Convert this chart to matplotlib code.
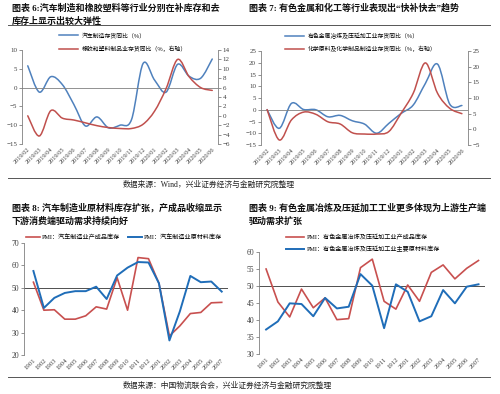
import numpy as np
import matplotlib
matplotlib.use('Agg')
import matplotlib.pyplot as plt
from matplotlib.path import Path
from matplotlib.patches import PathPatch
from matplotlib.lines import Line2D

plt.rcParams['font.family'] = ['Liberation Serif', 'Noto Sans CJK SC']
CJK = ['Noto Sans CJK SC']

# chart 6 / 7 : monthly inventory yoy (2019/02 - 2020/06)
months = ['2019/02', '2019/03', '2019/04', '2019/05', '2019/06', '2019/07', '2019/08',
          '2019/09', '2019/10', '2019/11', '2019/12', '2020/01', '2020/02', '2020/03',
          '2020/04', '2020/05', '2020/06']
auto_inv = [5.8, -1.2, 2.9, 0.8, -4.5, -10.2, -7.8, -10.7, -10.0, -8.5, 6.4, 2.0, -1.2, 6.2, 3.0, 2.5, 7.6]
rubber_inv = [0.0, -4.3, 1.1, -0.5, -0.9, -1.5, -2.1, -2.5, -2.7, -2.7, -1.8, 1.0, 5.8, 12.0, 8.3, 6.0, 5.4]
metal_inv = [0.0, -7.9, 2.7, 0.1, 0.0, -3.0, -2.4, -4.7, -6.1, -10.0, -5.8, -1.6, 2.0, 11.2, 19.4, 2.4, 1.8]
chem_inv = [6.3, -3.4, 3.0, 5.5, 4.8, 2.4, 1.7, -1.1, -1.5, -1.5, -0.7, 5.1, 11.5, 21.2, 11.5, 6.7, 5.0]

# chart 8 / 9 : PMI inventory (1901 - 2007)
pmi_months = ['1901', '1902', '1903', '1904', '1905', '1906', '1907', '1908', '1909', '1910',
              '1911', '1912', '2001', '2002', '2003', '2004', '2005', '2006', '2007']
auto_fin = [52.5, 40.0, 40.2, 36.0, 36.0, 37.5, 41.5, 40.5, 54.5, 40.0, 63.5, 63.0, 52.0, 28.5, 33.0, 38.5, 39.0, 43.3, 43.5]
auto_raw = [57.5, 41.0, 45.5, 47.7, 48.5, 48.5, 50.5, 45.0, 55.5, 59.0, 61.5, 61.3, 52.0, 26.5, 39.5, 55.3, 52.5, 52.8, 48.3]
metal_fin = [55.0, 45.3, 40.9, 49.1, 43.6, 46.5, 40.1, 40.4, 55.4, 57.9, 45.5, 43.2, 50.3, 45.5, 54.0, 56.2, 52.1, 55.2, 57.5]
metal_raw = [37.2, 39.6, 44.9, 44.7, 41.1, 46.5, 43.4, 43.9, 53.5, 50.1, 37.6, 50.5, 48.3, 39.6, 41.1, 48.8, 44.9, 49.8, 50.5]

BLUE_S = '#4F81BD'
RED_S = '#C0504D'
BLUE = '#1F6DB8'
RED = '#C8504F'
GRAY = '#808080'
TXT = '#404040'

W, H = 500, 394
fig = plt.figure(figsize=(5.0, 3.94), dpi=100)


def box(l, t, r, b):
    return [l / W, 1 - b / H, (r - l) / W, (b - t) / H]


def fx(x):
    return x / W


def fy(y):
    return 1 - y / H


def smooth(ax, y, color, lw):
    # excel style smoothed line drawn as cubic bezier through the points
    pts = np.column_stack([np.arange(len(y)), np.asarray(y, float)])
    verts = [pts[0]]
    codes = [Path.MOVETO]
    n = len(pts)
    for i in range(n - 1):
        p0 = pts[max(i - 1, 0)]
        p1 = pts[i]
        p2 = pts[i + 1]
        p3 = pts[min(i + 2, n - 1)]
        verts += [p1 + (p2 - p0) / 6, p2 - (p3 - p1) / 6, p2]
        codes += [Path.CURVE4] * 3
    ax.add_patch(PathPatch(Path(verts, codes), fill=False, edgecolor=color, lw=lw,
                           transform=ax.transData, capstyle='round', joinstyle='round'))


def style(ax, labels, lsize, ysize):
    for s in ['top', 'right', 'bottom']:
        ax.spines[s].set_visible(False)
    ax.spines['left'].set_color(GRAY)
    ax.spines['left'].set_linewidth(0.6)
    ax.set_xticks(range(len(labels)))
    ax.set_xticklabels(labels, rotation=45, ha='right', rotation_mode='anchor')
    ax.tick_params(axis='x', length=0, pad=2, labelsize=lsize, labelcolor=TXT)
    ax.tick_params(axis='y', length=2, width=0.6, color=GRAY, pad=1.5,
                   labelsize=ysize, labelcolor=TXT)
    ax.set_facecolor('none')


def style_right(ax2, ysize):
    for s in ['top', 'left', 'bottom']:
        ax2.spines[s].set_visible(False)
    ax2.spines['right'].set_color(GRAY)
    ax2.spines['right'].set_linewidth(0.6)
    ax2.tick_params(axis='y', length=2, width=0.6, color=GRAY, pad=1.5,
                    labelsize=ysize, labelcolor=TXT)


# ---------- titles / rules ----------
tkw = dict(family=['Liberation Serif', 'Noto Sans CJK SC'], fontsize=6.5, fontweight='bold',
           va='center', color='#111111')
fig.text(fx(12), fy(8), '图表 6:汽车制造和橡胶塑料等行业分别在补库存和去', **tkw)
fig.text(fx(12), fy(21), '库存上显示出较大弹性', **tkw)
fig.text(fx(249), fy(8), '图表 7: 有色金属和化工等行业表现出“快补快去”趋势', **tkw)
fig.text(fx(12), fy(208), '图表 8: 汽车制造业原材料库存扩张，产成品收缩显示', **tkw)
fig.text(fx(12), fy(221), '下游消费端驱动需求持续向好', **tkw)
fig.text(fx(249), fy(208), '图表 9: 有色金属冶炼及压延加工工业更多体现为上游生产端', **tkw)
fig.text(fx(249), fy(221), '驱动需求扩张', **tkw)

for yy in [25, 178, 377]:
    fig.add_artist(Line2D([fx(8), fx(490)], [fy(yy), fy(yy)], color='#555555', lw=0.7))

skw = dict(family=['Liberation Serif', 'Noto Sans CJK SC'], fontsize=5.6, va='center', color='#222222')
fig.text(fx(123), fy(185), '数据来源：Wind，兴业证券经济与金融研究院整理', **skw)
fig.text(fx(123), fy(386), '数据来源：中国物流联合会，兴业证券经济与金融研究院整理', **skw)

# ---------- chart 6 ----------
ax = fig.add_axes(box(22, 50, 218, 144))
style(ax, months, 4.5, 5)
ax.set_xlim(-0.5, len(months) - 0.5)
ax.set_ylim(-15, 10)
ax.set_yticks(range(-15, 11, 5))
ax.axhline(0, color=GRAY, lw=0.6)
ax2 = ax.twinx()
style_right(ax2, 5)
ax2.set_ylim(-6, 14)
ax2.set_yticks(range(-6, 15, 2))
smooth(ax, auto_inv, BLUE_S, 1.1)
smooth(ax2, rubber_inv, RED_S, 1.1)
lkw = dict(frameon=False, handlelength=3.2, handletextpad=0.6, labelspacing=1.2,
           loc='upper left', bbox_transform=fig.transFigure, prop={'family': CJK, 'size': 4.2})
ax2.legend([Line2D([], [], color=BLUE_S, lw=1.1), Line2D([], [], color=RED_S, lw=1.1)],
           ['汽车制造存货同比（%）', '橡胶和塑料制品业存货同比（%，右轴）'],
           bbox_to_anchor=(fx(54), fy(27)), **lkw)

# ---------- chart 7 ----------
ax = fig.add_axes(box(261, 51, 468, 145))
style(ax, months, 4.5, 5)
ax.set_xlim(-0.5, len(months) - 0.5)
ax.set_ylim(-15, 25)
ax.set_yticks(range(-15, 26, 5))
ax.axhline(0, color=GRAY, lw=0.6)
ax2 = ax.twinx()
style_right(ax2, 5)
ax2.set_ylim(-5, 25)
ax2.set_yticks(range(-5, 26, 5))
smooth(ax, metal_inv, BLUE_S, 1.1)
smooth(ax2, chem_inv, RED_S, 1.1)
ax2.legend([Line2D([], [], color=BLUE_S, lw=1.1), Line2D([], [], color=RED_S, lw=1.1)],
           ['有色金属冶炼及压延加工业存货同比（%）', '化学原料及化学制品制造业存货同比（%，右轴）'],
           bbox_to_anchor=(fx(280), fy(27)), **lkw)

# ---------- chart 8 ----------
ax = fig.add_axes(box(24, 243, 228, 355))
style(ax, pmi_months, 4.8, 5.5)
ax.set_xlim(-0.9, len(pmi_months) - 0.4)
ax.set_ylim(20, 70)
ax.set_yticks(range(20, 71, 10))
ax.axhline(50, color='#333333', lw=0.6)
ax.plot(range(len(pmi_months)), auto_fin, color=RED, lw=1.2, label='PMI：汽车制造业产成品库存')
ax.plot(range(len(pmi_months)), auto_raw, color=BLUE, lw=1.4, label='PMI：汽车制造业原材料库存')
ax.legend(loc='center left', bbox_to_anchor=(fx(20), fy(237)), bbox_transform=fig.transFigure,
          ncol=2, frameon=False, handlelength=2.4, handletextpad=0.3, columnspacing=1.2,
          prop={'family': ['Liberation Serif', 'Noto Sans CJK SC'], 'size': 4.4})

# ---------- chart 9 ----------
ax = fig.add_axes(box(259, 252, 485, 354))
style(ax, pmi_months, 4.8, 5.5)
ax.set_xlim(-0.6, len(pmi_months) - 0.45)
ax.set_ylim(30, 60)
ax.set_yticks(range(30, 61, 5))
ax.axhline(50, color='#333333', lw=0.6)
ax.plot(range(len(pmi_months)), metal_fin, color=RED, lw=1.2,
        label='PMI：有色金属冶炼及压延加工业产成品库存')
ax.plot(range(len(pmi_months)), metal_raw, color=BLUE, lw=1.4,
        label='PMI：有色金属冶炼及压延加工业主要原材料库存')
ax.legend(loc='center left', bbox_to_anchor=(fx(280), fy(243)), bbox_transform=fig.transFigure,
          ncol=1, frameon=False, handlelength=3.0, handletextpad=0.4, labelspacing=1.0,
          prop={'family': ['Liberation Serif', 'Noto Sans CJK SC'], 'size': 4.4})

fig.savefig('out.png', dpi=100)
